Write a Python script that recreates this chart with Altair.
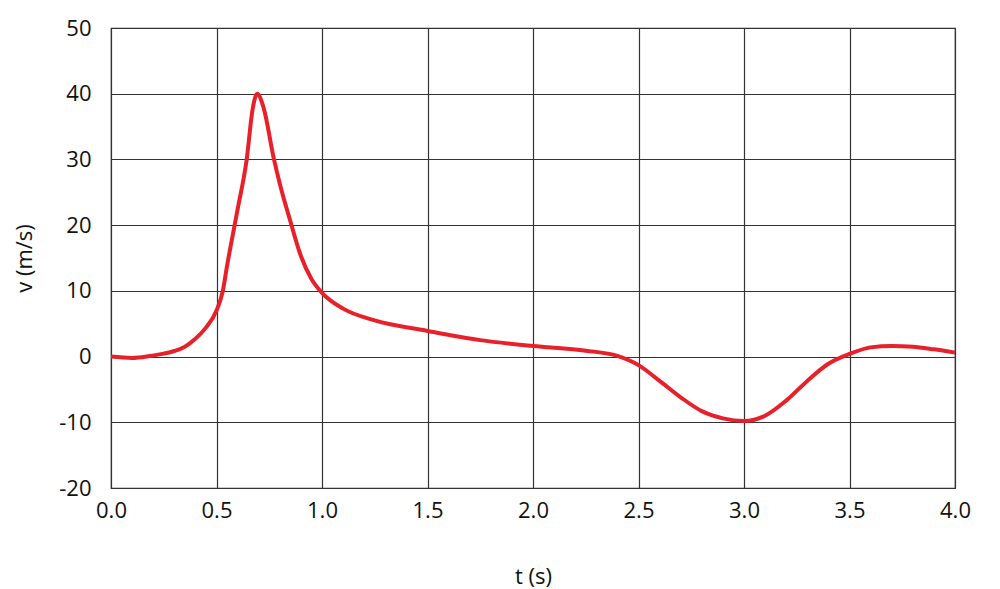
import altair as alt
import pandas as pd

t_vals = [0.0, 0.1, 0.185, 0.25, 0.3, 0.35, 0.4, 0.45, 0.5, 0.53, 0.55, 0.6, 0.643, 0.671, 0.693, 0.722, 0.7725, 0.8, 0.85, 0.9, 0.95,
          1.0, 1.1, 1.25, 1.5, 1.75, 2.0, 2.25, 2.4, 2.5, 2.6, 2.7, 2.8, 2.9, 3.0, 3.1, 3.2,
          3.3, 3.4, 3.5, 3.6, 3.7, 3.8, 3.9, 4.0]
v_vals = [0.0, -0.2, 0.1, 0.45, 0.85, 1.5, 2.7, 4.4, 7.0, 10.0, 13.8, 22.4, 30.0, 37.6, 40.0, 38.0, 30.0, 26.3, 20.6, 15.3, 11.8,
          9.7, 7.3, 5.5, 3.9, 2.5, 1.6, 0.9, 0.1, -1.3, -3.7, -6.2, -8.3, -9.4, -9.8, -9.0, -6.7,
          -3.7, -1.1, 0.4, 1.4, 1.6, 1.5, 1.1, 0.6]

x_ticks = [0, 0.5, 1.0, 1.5, 2.0, 2.5, 3.0, 3.5, 4.0]
y_ticks = [-20, -10, 0, 10, 20, 30, 40, 50]

df = pd.DataFrame({"t": t_vals, "v": v_vals})

FONT = "Open Sans"
FS = 22

chart = alt.Chart(df).mark_line(color="#e8202a", strokeWidth=4, interpolate="monotone").encode(
    x=alt.X("t:Q", scale=alt.Scale(domain=[0, 4], nice=False),
            axis=alt.Axis(values=x_ticks, format=".1f", title="t (s)", grid=True,
                          tickSize=0, labelPadding=12, titlePadding=45, domain=False,
                          labelFlush=False,
                          labelFontSize=FS, titleFontSize=FS, labelFont=FONT, titleFont=FONT,
                          labelColor="#111", titleColor="#111", titleFontWeight="normal",
                          gridColor="#333", gridWidth=1.2, gridOpacity=1)),
    y=alt.Y("v:Q", scale=alt.Scale(domain=[-20, 50], nice=False),
            axis=alt.Axis(values=y_ticks, title="v (m/s)", grid=True,
                          labelExpr="replace(datum.label, '\u2212', '-')",
                          tickSize=0, labelPadding=20, titlePadding=22, domain=False,
                          labelFontSize=FS, titleFontSize=FS, labelFont=FONT, titleFont=FONT,
                          labelColor="#111", titleColor="#111", titleFontWeight="normal",
                          gridColor="#333", gridWidth=1.2, gridOpacity=1)),
).properties(
    width=844, height=460,
    autosize=alt.AutoSizeParams(type="none"),
    padding={"left": 103, "top": 20, "right": 30, "bottom": 100},
).configure_view(stroke="#333", strokeWidth=1.2)

chart.save("out.html", embed_options={"renderer": "svg", "actions": False})
